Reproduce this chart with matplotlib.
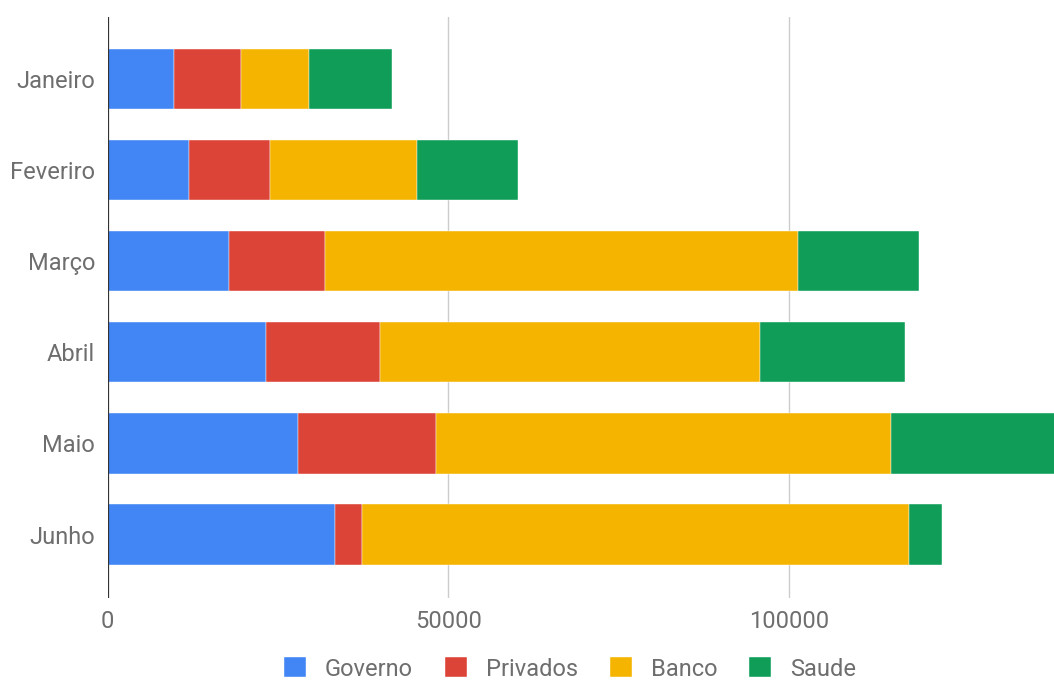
import numpy as np
import matplotlib
matplotlib.use("Agg")
import matplotlib.pyplot as plt

plt.rcParams['font.family'] = ['Roboto', 'DejaVu Sans']

meses = ["Janeiro", "Feveriro", "Março", "Abril", "Maio", "Junho"]
series = ["Governo", "Privados", "Banco", "Saude"]
governo = [9800, 11900, 17900, 23200, 27900, 33400]
privados = [9800, 11900, 14000, 16800, 20300, 4000]
banco = [10000, 21600, 69400, 55800, 66800, 80200]
saude = [12200, 14800, 17800, 21200, 26000, 4900]
cores = ["#4285F4", "#DB4437", "#F4B400", "#0F9D58"]
xticks = [0, 50000, 100000]

valores = [governo, privados, banco, saude]

fig = plt.figure(figsize=(10.54, 6.8), dpi=100)
ax = fig.add_axes([0.102, 0.1213, 0.898, 0.8541])

y = np.arange(len(meses))
left = np.zeros(len(meses))
for nome, vals, cor in zip(series, valores, cores):
    ax.barh(y, vals, left=left, height=0.66, color=cor, label=nome,
            edgecolor="white", linewidth=0.3, zorder=3)
    left += np.array(vals)

ax.set_xlim(0, 138900)
ax.set_ylim(5.692, -0.688)
ax.set_yticks(y)
ax.set_yticklabels(meses)
ax.set_xticks(xticks)
ax.set_xticklabels([str(t) for t in xticks])

for t in xticks[1:]:
    ax.axvline(t, color="#cccccc", linewidth=1, zorder=1)
ax.axvline(0, color="#333333", linewidth=1.6, zorder=4)

for s in ax.spines.values():
    s.set_visible(False)
ax.tick_params(axis="both", length=0, labelsize=17, colors="#6e6e6e")
ax.tick_params(axis="x", pad=9)
ax.tick_params(axis="y", pad=9)

fig.legend(loc="center", bbox_to_anchor=(570 / 1054, 1 - 669 / 680), ncol=4,
           frameon=False, fontsize=17, handlelength=0.93, handleheight=0.93,
           handletextpad=0.8, columnspacing=1.35, labelcolor="#6e6e6e")

fig.savefig("out.png", dpi=100)
